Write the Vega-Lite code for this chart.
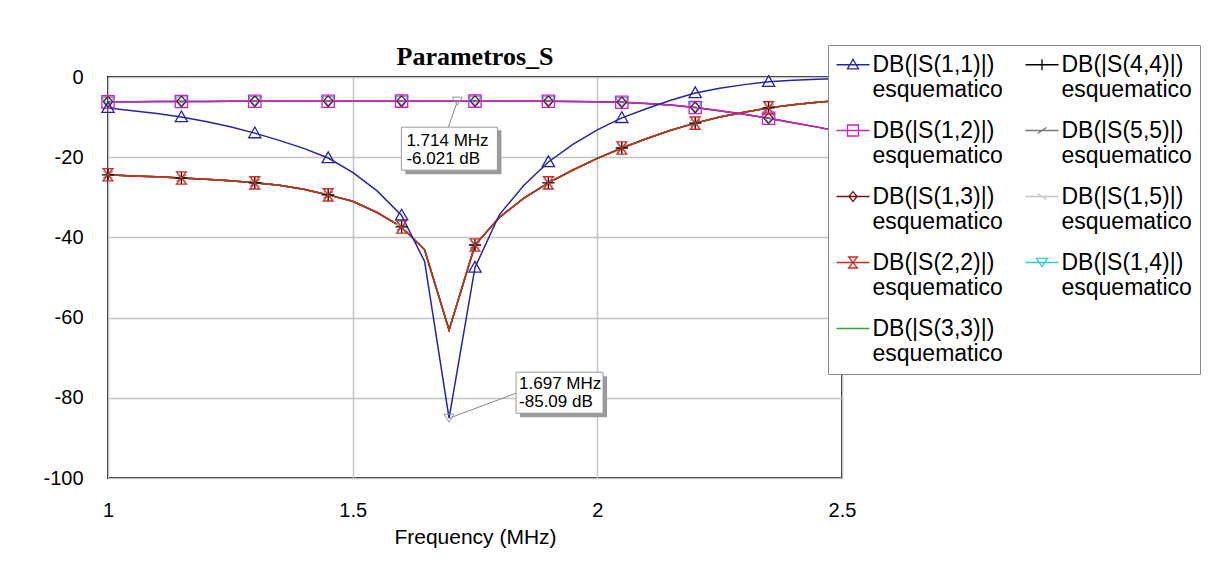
{
  "$schema": "https://vega.github.io/schema/vega-lite/v6.json",
  "width": 734,
  "height": 401,
  "autosize": "none",
  "padding": {"left": 108, "top": 77, "right": 368, "bottom": 91},
  "background": "white",
  "title": {"text": "Parametros_S", "font": "Liberation Serif", "fontSize": 26, "fontWeight": "bold", "color": "black", "anchor": "middle", "offset": -25},
  "config": {
    "view": {"stroke": "#222222", "strokeWidth": 2},
    "axis": {"grid": true, "gridColor": "#c4c4c4", "gridWidth": 1.5, "ticks": false, "domain": false, "labelFont": "Liberation Sans", "labelFontSize": 20, "labelColor": "black", "titleFont": "Liberation Sans", "titleFontSize": 21, "titleFontWeight": "normal", "titleColor": "black"},
    "legend": {"orient": "none", "legendX": 720, "legendY": -32, "columns": 2, "direction": "vertical", "fillColor": "white", "strokeColor": "#888888", "padding": 8, "labelFont": "Liberation Sans", "labelFontSize": 23, "labelColor": "black", "labelLimit": 400, "symbolSize": 121, "symbolStrokeWidth": 1.3, "symbolOffset": 5.5, "labelOffset": 8, "rowPadding": 17, "columnPadding": 19, "title": null}
  },
  "datasets": {
    "sparams": [
      {"f": 1.0, "s11": -7.7, "s12": -6.2, "s13": -6.2, "s14": -6.2, "s22": -24.4, "s33": -24.4, "s44": -24.4, "s55": -24.4, "s15": -24.4},
      {"f": 1.05, "s11": -8.4, "s12": -6.15, "s13": -6.15, "s14": -6.15, "s22": -24.7, "s33": -24.7, "s44": -24.7, "s55": -24.7, "s15": -24.7},
      {"f": 1.1, "s11": -9.1, "s12": -6.12, "s13": -6.12, "s14": -6.12, "s22": -24.9, "s33": -24.9, "s44": -24.9, "s55": -24.9, "s15": -24.9},
      {"f": 1.15, "s11": -10.0, "s12": -6.1, "s13": -6.1, "s14": -6.1, "s22": -25.2, "s33": -25.2, "s44": -25.2, "s55": -25.2, "s15": -25.2},
      {"f": 1.2, "s11": -11.1, "s12": -6.08, "s13": -6.08, "s14": -6.08, "s22": -25.5, "s33": -25.5, "s44": -25.5, "s55": -25.5, "s15": -25.5},
      {"f": 1.25, "s11": -12.4, "s12": -6.06, "s13": -6.06, "s14": -6.06, "s22": -25.9, "s33": -25.9, "s44": -25.9, "s55": -25.9, "s15": -25.9},
      {"f": 1.3, "s11": -14.0, "s12": -6.05, "s13": -6.05, "s14": -6.05, "s22": -26.4, "s33": -26.4, "s44": -26.4, "s55": -26.4, "s15": -26.4},
      {"f": 1.35, "s11": -15.8, "s12": -6.04, "s13": -6.04, "s14": -6.04, "s22": -27.0, "s33": -27.0, "s44": -27.0, "s55": -27.0, "s15": -27.0},
      {"f": 1.4, "s11": -17.8, "s12": -6.03, "s13": -6.03, "s14": -6.03, "s22": -28.0, "s33": -28.0, "s44": -28.0, "s55": -28.0, "s15": -28.0},
      {"f": 1.45, "s11": -20.2, "s12": -6.03, "s13": -6.03, "s14": -6.03, "s22": -29.4, "s33": -29.4, "s44": -29.4, "s55": -29.4, "s15": -29.4},
      {"f": 1.5, "s11": -23.8, "s12": -6.02, "s13": -6.02, "s14": -6.02, "s22": -31.0, "s33": -31.0, "s44": -31.0, "s55": -31.0, "s15": -31.0},
      {"f": 1.55, "s11": -28.4, "s12": -6.02, "s13": -6.02, "s14": -6.02, "s22": -33.8, "s33": -33.8, "s44": -33.8, "s55": -33.8, "s15": -33.8},
      {"f": 1.6, "s11": -34.5, "s12": -6.02, "s13": -6.02, "s14": -6.02, "s22": -37.4, "s33": -37.4, "s44": -37.4, "s55": -37.4, "s15": -37.4},
      {"f": 1.647, "s11": -46.0, "s12": -6.02, "s13": -6.02, "s14": -6.02, "s22": -43.1, "s33": -43.1, "s44": -43.1, "s55": -43.1, "s15": -43.1},
      {"f": 1.697, "s11": -85.09, "s12": -6.02, "s13": -6.02, "s14": -6.02, "s22": -63.1, "s33": -63.1, "s44": -63.1, "s55": -63.1, "s15": -63.1},
      {"f": 1.75, "s11": -47.5, "s12": -6.02, "s13": -6.02, "s14": -6.02, "s22": -41.9, "s33": -41.9, "s44": -41.9, "s55": -41.9, "s15": -41.9},
      {"f": 1.8, "s11": -34.3, "s12": -6.02, "s13": -6.02, "s14": -6.02, "s22": -35.0, "s33": -35.0, "s44": -35.0, "s55": -35.0, "s15": -35.0},
      {"f": 1.85, "s11": -27.0, "s12": -6.03, "s13": -6.03, "s14": -6.03, "s22": -30.2, "s33": -30.2, "s44": -30.2, "s55": -30.2, "s15": -30.2},
      {"f": 1.9, "s11": -21.2, "s12": -6.05, "s13": -6.05, "s14": -6.05, "s22": -26.4, "s33": -26.4, "s44": -26.4, "s55": -26.4, "s15": -26.4},
      {"f": 1.95, "s11": -16.8, "s12": -6.08, "s13": -6.08, "s14": -6.08, "s22": -23.2, "s33": -23.2, "s44": -23.2, "s55": -23.2, "s15": -23.2},
      {"f": 2.0, "s11": -13.2, "s12": -6.15, "s13": -6.15, "s14": -6.15, "s22": -20.3, "s33": -20.3, "s44": -20.3, "s55": -20.3, "s15": -20.3},
      {"f": 2.05, "s11": -10.2, "s12": -6.3, "s13": -6.3, "s14": -6.3, "s22": -17.7, "s33": -17.7, "s44": -17.7, "s55": -17.7, "s15": -17.7},
      {"f": 2.1, "s11": -7.9, "s12": -6.6, "s13": -6.6, "s14": -6.6, "s22": -15.4, "s33": -15.4, "s44": -15.4, "s55": -15.4, "s15": -15.4},
      {"f": 2.15, "s11": -5.8, "s12": -7.0, "s13": -7.0, "s14": -7.0, "s22": -13.3, "s33": -13.3, "s44": -13.3, "s55": -13.3, "s15": -13.3},
      {"f": 2.2, "s11": -4.0, "s12": -7.6, "s13": -7.6, "s14": -7.6, "s22": -11.5, "s33": -11.5, "s44": -11.5, "s55": -11.5, "s15": -11.5},
      {"f": 2.25, "s11": -2.8, "s12": -8.4, "s13": -8.4, "s14": -8.4, "s22": -10.0, "s33": -10.0, "s44": -10.0, "s55": -10.0, "s15": -10.0},
      {"f": 2.3, "s11": -1.9, "s12": -9.3, "s13": -9.3, "s14": -9.3, "s22": -8.8, "s33": -8.8, "s44": -8.8, "s55": -8.8, "s15": -8.8},
      {"f": 2.35, "s11": -1.2, "s12": -10.3, "s13": -10.3, "s14": -10.3, "s22": -7.7, "s33": -7.7, "s44": -7.7, "s55": -7.7, "s15": -7.7},
      {"f": 2.4, "s11": -0.8, "s12": -11.4, "s13": -11.4, "s14": -11.4, "s22": -6.9, "s33": -6.9, "s44": -6.9, "s55": -6.9, "s15": -6.9},
      {"f": 2.45, "s11": -0.55, "s12": -12.5, "s13": -12.5, "s14": -12.5, "s22": -6.3, "s33": -6.3, "s44": -6.3, "s55": -6.3, "s15": -6.3},
      {"f": 2.5, "s11": -0.4, "s12": -13.7, "s13": -13.7, "s14": -13.7, "s22": -5.8, "s33": -5.8, "s44": -5.8, "s55": -5.8, "s15": -5.8}
    ],
    "mark1": [{"f": 1.714, "db": -6.021, "txt": "1.714 MHz\n-6.021 dB"}],
    "mark2": [{"f": 1.697, "db": -85.09, "txt": "1.697 MHz\n-85.09 dB"}]
  },
  "encoding": {
    "x": {"field": "f", "type": "quantitative", "scale": {"domain": [1, 2.5], "nice": false, "zero": false}, "axis": {"values": [1, 1.5, 2, 2.5], "labelExpr": "'' + datum.value", "title": "Frequency (MHz)", "labelPadding": 22, "titlePadding": 6, "labelFlush": false}},
    "y": {"field": "db", "type": "quantitative", "scale": {"domain": [-100, 0], "nice": false}, "axis": {"values": [-100, -80, -60, -40, -20, 0], "labelExpr": "'' + datum.value", "title": null, "labelPadding": 25}}
  },
  "layer": [
    {
      "data": {"name": "sparams"},
      "transform": [{"fold": ["s15", "s55", "s44", "s33", "s14", "s13", "s22", "s12", "s11"], "as": ["series", "db"]}],
      "layer": [
        {
          "mark": {"type": "line", "strokeWidth": 1.5, "clip": true},
          "encoding": {
            "color": {"field": "series", "type": "nominal",
              "scale": {"domain": ["s11", "s12", "s13", "s22", "s33", "s44", "s55", "s15", "s14"], "range": ["#2424aa", "#cc22cc", "#7a1010", "#d42a1e", "#33aa33", "#000000", "#777777", "#c4c4c4", "#33ccdd"]},
              "legend": {
                "labelExpr": "['DB(|S(' + substring(datum.label, 1, 2) + ',' + substring(datum.label, 2, 3) + ')|)', 'esquematico']",
                "encode": {
                  "labels": {"update": {"lineHeight": {"value": 25}}},
                  "symbols": {"update": {"shape": {"signal": "'M-3,0H3' + scale('shape', datum.value)"}, "fill": {"value": "transparent"}, "strokeWidth": {"value": 1.3}, "opacity": {"value": 1}}}
                }
              }
            },
            "detail": {"field": "series"}
          }
        },
        {
          "transform": [{"filter": "indexof([1, 1.15, 1.3, 1.45, 1.6, 1.75, 1.9, 2.05, 2.2, 2.35, 2.5], datum.f) >= 0"}],
          "mark": {"type": "point", "filled": false, "size": 150, "strokeWidth": 1.3, "opacity": 1},
          "encoding": {
            "color": {"field": "series", "type": "nominal"},
            "shape": {"field": "series", "type": "nominal", "legend": null,
              "scale": {"domain": ["s14", "s15", "s55", "s44", "s33", "s22", "s13", "s12", "s11"],
                "range": ["M0,0.75L1,-0.75L-1,-0.75Z", "M-0.8,-0.55L0.8,0.55", "M-0.8,0.55L0.8,-0.55", "M-1,0H1M0,-1V1", "M0,0", "M-0.8,-1H0.8L-0.8,1H0.8Z", "M0,-0.9L0.75,0L0,0.9L-0.75,0Z", "M-1,-1H1V1H-1Z", "M0,-1L1,0.75L-1,0.75Z"]}
            }
          }
        }
      ]
    },
    {
      "data": {"name": "mark1"},
      "layer": [
        {"mark": {"type": "point", "shape": "M-52,29H44V73H-52Z", "size": 4, "filled": true, "fill": "#9a9a9a", "strokeWidth": 0, "opacity": 1}},
        {"mark": {"type": "point", "shape": "M-56,26H40V69H-56Z", "size": 4, "filled": true, "fill": "white", "stroke": "#999999", "strokeWidth": 1, "opacity": 1}},
        {"mark": {"type": "point", "shape": "M0,0L-9,26", "size": 4, "filled": false, "stroke": "#888888", "strokeWidth": 1, "opacity": 1}},
        {"mark": {"type": "point", "shape": "M-5,-4H5L0,4Z", "size": 4, "filled": false, "stroke": "#999999", "strokeWidth": 1, "opacity": 1}},
        {"mark": {"type": "text", "lineBreak": "\n", "align": "left", "baseline": "top", "dx": -51, "dy": 32, "font": "Liberation Sans", "fontSize": 17, "lineHeight": 18, "color": "black"}, "encoding": {"text": {"field": "txt"}}}
      ]
    },
    {
      "data": {"name": "mark2"},
      "layer": [
        {"mark": {"type": "point", "shape": "M71,-42H158V-1H71Z", "size": 4, "filled": true, "fill": "#9a9a9a", "strokeWidth": 0, "opacity": 1}},
        {"mark": {"type": "point", "shape": "M67,-46H154V-5H67Z", "size": 4, "filled": true, "fill": "white", "stroke": "#999999", "strokeWidth": 1, "opacity": 1}},
        {"mark": {"type": "point", "shape": "M0,0L67,-25", "size": 4, "filled": false, "stroke": "#888888", "strokeWidth": 1, "opacity": 1}},
        {"mark": {"type": "point", "shape": "M-5,-4H5L0,4Z", "size": 4, "filled": false, "stroke": "#999999", "strokeWidth": 1, "opacity": 1}},
        {"mark": {"type": "text", "lineBreak": "\n", "align": "left", "baseline": "top", "dx": 70, "dy": -42, "font": "Liberation Sans", "fontSize": 17, "lineHeight": 18, "color": "black"}, "encoding": {"text": {"field": "txt"}}}
      ]
    }
  ]
}
